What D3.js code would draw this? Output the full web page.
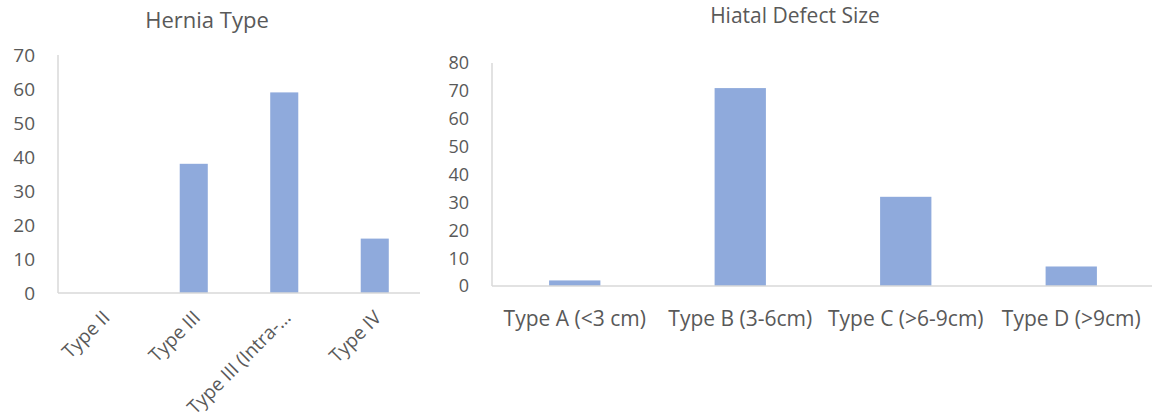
<!DOCTYPE html>
<html>
<head>
<meta charset="utf-8">
<script src="https://cdn.jsdelivr.net/npm/d3@7"></script>
<style>
  body { margin: 0; background: #fff; }
  text { font-family: "Open Sans", sans-serif; fill: #595959; }
</style>
</head>
<body>
<div id="canvas"></div>
<script>
const herniaCats = ["Type II", "Type III", "Type III (Intra-…", "Type IV"];
const herniaVals = [0, 38, 59, 16];
const herniaTicks = [0, 10, 20, 30, 40, 50, 60, 70];

const defectCats = ["Type A (<3 cm)", "Type B (3-6cm)", "Type C (>6-9cm)", "Type D (>9cm)"];
const defectVals = [2, 71, 32, 7];
const defectTicks = [0, 10, 20, 30, 40, 50, 60, 70, 80];

const barColor = "#8faadc";
const axisColor = "#d9d9d9";

let svg = d3.select("#canvas")
    .append("svg")
    .attr("width", 1152)
    .attr("height", 420);

function drawChart(opts){
    let x = d3.scaleBand()
        .domain(opts.cats)
        .range([opts.left, opts.right])
        .paddingInner(0.69)
        .paddingOuter(0.345);
    let y = d3.scaleLinear()
        .domain([0, opts.max])
        .range([opts.bottom, opts.top]);
    let g = svg.append("g");

    g.append("text")
        .attr("x", opts.titleX)
        .attr("y", opts.titleY)
        .attr("text-anchor", "middle")
        .style("font-size", opts.titleSize + "px")
        .text(opts.title);

    g.selectAll(".bar")
        .data(opts.vals)
        .enter()
        .append("rect")
        .attr("class", "bar")
        .attr("x", (d, i) => x(opts.cats[i]))
        .attr("y", d => y(d))
        .attr("width", x.bandwidth())
        .attr("height", d => y(0) - y(d))
        .style("fill", barColor);

    // y axis line + labels
    g.append("line")
        .attr("x1", opts.left).attr("x2", opts.left)
        .attr("y1", opts.top).attr("y2", opts.bottom)
        .style("stroke", axisColor)
        .style("stroke-width", 1.5);
    g.selectAll(".ytick")
        .data(opts.ticks)
        .enter()
        .append("text")
        .attr("class", "ytick")
        .attr("x", opts.tickX)
        .attr("y", d => y(d))
        .attr("dy", "0.36em")
        .attr("text-anchor", "end")
        .style("font-size", opts.tickSize + "px")
        .text(d => d);

    g.append("line")
        .attr("x1", opts.left).attr("x2", opts.right)
        .attr("y1", opts.bottom).attr("y2", opts.bottom)
        .style("stroke", axisColor)
        .style("stroke-width", 1.5);

    if(opts.rotate){
        g.selectAll(".xlab")
            .data(opts.cats)
            .enter()
            .append("text")
            .attr("class", "xlab")
            .attr("transform", d => `translate(${x(d) + x.bandwidth() / 2 + 3},${opts.bottom + 21}) rotate(-45)`)
            .attr("text-anchor", "end")
            .attr("dy", "0.35em")
            .style("font-size", opts.labSize + "px")
            .text(d => d);
    }else{
        g.selectAll(".xlab")
            .data(opts.cats)
            .enter()
            .append("text")
            .attr("class", "xlab")
            .attr("x", d => x(d) + x.bandwidth() / 2)
            .attr("y", opts.labY)
            .attr("text-anchor", "middle")
            .style("font-size", opts.labSize + "px")
            .text(d => d);
    }
}

drawChart({
    cats: herniaCats, vals: herniaVals, ticks: herniaTicks, max: 70,
    left: 58, right: 420, top: 55, bottom: 293,
    title: "Hernia Type", titleX: 207, titleY: 28, titleSize: 22,
    tickX: 35, tickSize: 19, labSize: 19, rotate: true
});

drawChart({
    cats: defectCats, vals: defectVals, ticks: defectTicks, max: 80,
    left: 492, right: 1154, top: 63, bottom: 286,
    title: "Hiatal Defect Size", titleX: 795, titleY: 23, titleSize: 21,
    tickX: 469, tickSize: 18, labY: 326, labSize: 21, rotate: false
});
</script>
</body>
</html>
